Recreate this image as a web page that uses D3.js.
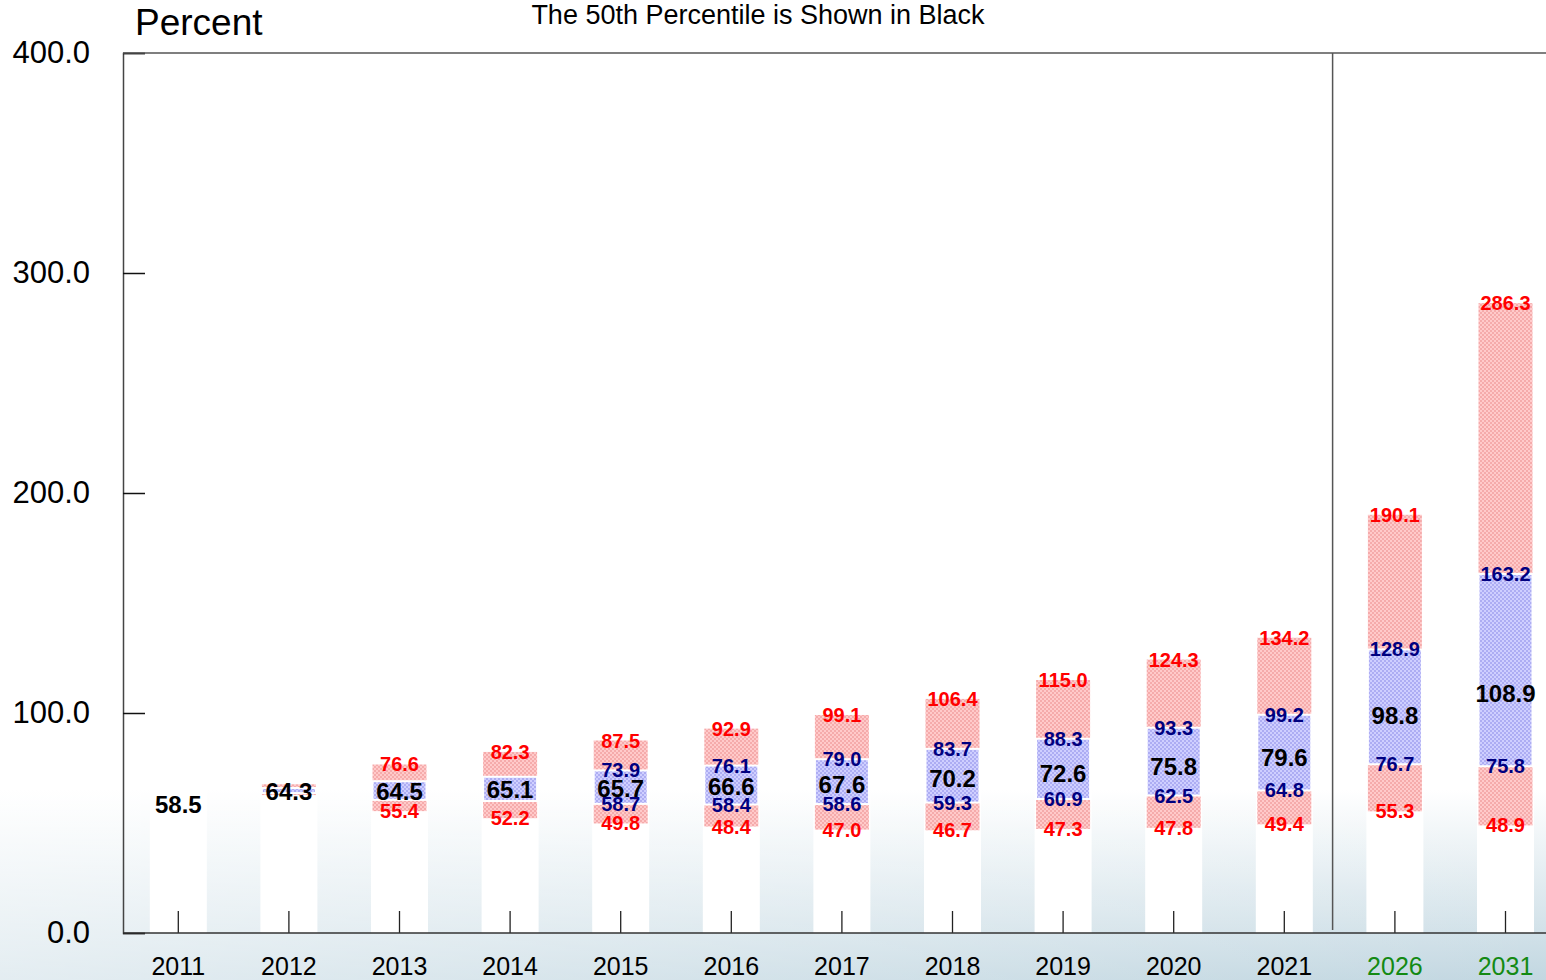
<!DOCTYPE html>
<html>
<head>
<meta charset="utf-8">
<script src="https://cdn.jsdelivr.net/npm/d3@7"></script>
<style>
  html, body { margin: 0; padding: 0; background: #fff; }
  svg { display: block; font-family: "Liberation Sans", Arial, sans-serif; }
</style>
</head>
<body>
<svg id="chart" width="1546" height="980"></svg>
<script>
const years = ['2011', '2012', '2013', '2014', '2015', '2016', '2017', '2018', '2019', '2020', '2021', '2026', '2031']
const projected = ['2026', '2031']

// percentile bands, null where there is no spread
const p10 = [null, 62.7, 55.4, 52.2, 49.8, 48.4, 47.0, 46.7, 47.3, 47.8, 49.4, 55.3, 48.9]
const p25 = [null, 63.6, 60.5, 60.0, 58.7, 58.4, 58.6, 59.3, 60.9, 62.5, 64.8, 76.7, 75.8]
const p50 = [58.5, 64.3, 64.5, 65.1, 65.7, 66.6, 67.6, 70.2, 72.6, 75.8, 79.6, 98.8, 108.9]
const p75 = [null, 65.9, 69.0, 71.0, 73.9, 76.1, 79.0, 83.7, 88.3, 93.3, 99.2, 128.9, 163.2]
const p90 = [null, 67.6, 76.6, 82.3, 87.5, 92.9, 99.1, 106.4, 115.0, 124.3, 134.2, 190.1, 286.3]

// which years carry printed values for the outer / inner bands
const outerLabelYears = ['2013', '2014', '2015', '2016', '2017', '2018', '2019', '2020', '2021', '2026', '2031']
const innerLabelYears = ['2015', '2016', '2017', '2018', '2019', '2020', '2021', '2026', '2031']

const yTicks = [0, 100, 200, 300, 400]

const width = 1546
const height = 980
const margin = { top: 53, left: 123, bottom: 47 }
const step = 110.6

const fmt = d3.format('.1f')

const rows = years.map((y, i) => ({
  year: y, p10: p10[i], p25: p25[i], p50: p50[i], p75: p75[i], p90: p90[i]
}))

const svg = d3.select('#chart')
const defs = svg.append('defs')

const bg = defs.append('linearGradient')
  .attr('id', 'bgv')
  .attr('gradientUnits', 'userSpaceOnUse')
  .attr('x1', 0).attr('y1', 790).attr('x2', 0).attr('y2', 980)
bg.append('stop').attr('offset', 0).attr('stop-color', '#ffffff')
bg.append('stop').attr('offset', 1).attr('stop-color', '#c2d7e1')

const fade = defs.append('linearGradient')
  .attr('id', 'bgh')
  .attr('gradientUnits', 'userSpaceOnUse')
  .attr('x1', 0).attr('y1', 0).attr('x2', width).attr('y2', 0)
fade.append('stop').attr('offset', 0).attr('stop-color', '#ffffff').attr('stop-opacity', 0.55)
fade.append('stop').attr('offset', 1).attr('stop-color', '#ffffff').attr('stop-opacity', 0)

function checker(id, light, dark) {
  const p = defs.append('pattern')
    .attr('id', id)
    .attr('patternUnits', 'userSpaceOnUse')
    .attr('width', 4).attr('height', 4)
  p.append('rect').attr('width', 4).attr('height', 4).attr('fill', light)
  p.append('rect').attr('width', 2).attr('height', 2).attr('fill', dark)
  p.append('rect').attr('x', 2).attr('y', 2).attr('width', 2).attr('height', 2).attr('fill', dark)
}
checker('hatchRed', '#ffcaca', '#f5abab')
checker('hatchBlue', '#cfcfff', '#adadf3')

svg.append('rect').attr('width', width).attr('height', height).attr('fill', 'url(#bgv)')
svg.append('rect').attr('width', width).attr('height', height).attr('fill', 'url(#bgh)')

const x = d3.scaleBand()
  .domain(years)
  .range([margin.left, margin.left + step * years.length])
  .padding(0)

const y = d3.scaleLinear()
  .domain([0, 400])
  .range([height - margin.bottom, margin.top])

const cx = (d) => x(d) + x.bandwidth() / 2
const barw = 54
const colw = 57

// white column behind every year
svg.append('g')
  .selectAll('rect')
  .data(years)
  .join('rect')
   .attr('x', (d) => cx(d) - colw / 2)
   .attr('y', y(400))
   .attr('width', colw)
   .attr('height', y(0) - y(400))
   .attr('fill', '#fff')

const bands = rows.filter((d) => d.p10 != null)

svg.append('g')
  .selectAll('rect')
  .data(bands)
  .join('rect')
   .attr('x', (d) => cx(d.year) - barw / 2)
   .attr('y', (d) => y(d.p90))
   .attr('width', barw)
   .attr('height', (d) => y(d.p10) - y(d.p90))
   .attr('fill', 'url(#hatchRed)')

svg.append('g')
  .selectAll('rect')
  .data(bands)
  .join('rect')
   .attr('x', (d) => cx(d.year) - barw / 2)
   .attr('y', (d) => y(d.p75))
   .attr('width', barw)
   .attr('height', (d) => y(d.p25) - y(d.p75))
   .attr('fill', 'url(#hatchBlue)')
   .attr('stroke', '#fff')
   .attr('stroke-width', 2)

// axes
const yAxis = d3.axisLeft(y)
  .tickValues(yTicks)
  .tickFormat(fmt)
  .tickSize(-22)
  .tickPadding(33)

const gy = svg.append('g')
  .attr('transform', 'translate(' + margin.left + ',0)')
  .call(yAxis)
gy.select('.domain').attr('stroke', '#444').attr('stroke-width', 1.5)
gy.selectAll('.tick line').attr('stroke', '#111').attr('stroke-width', 1.5)
gy.selectAll('.tick text')
  .attr('font-size', 31)
  .attr('fill', '#000')
  .attr('font-family', '"Liberation Sans", Arial, sans-serif')

const xAxis = d3.axisBottom(x)
  .tickSize(-22)
  .tickPadding(24)

const gx = svg.append('g')
  .attr('transform', 'translate(0,' + y(0) + ')')
  .call(xAxis)
gx.select('.domain').attr('stroke', 'none')
gx.selectAll('.tick line').attr('stroke', '#222').attr('stroke-width', 1.3)
gx.selectAll('.tick text')
  .attr('font-size', 25)
  .attr('fill', (d) => projected.includes(d) ? '#138a13' : '#000')
  .attr('font-family', '"Liberation Sans", Arial, sans-serif')

svg.append('line')
  .attr('x1', margin.left).attr('x2', width)
  .attr('y1', y(0)).attr('y2', y(0))
  .attr('stroke', '#333').attr('stroke-width', 1.5)

svg.append('line')
  .attr('x1', margin.left).attr('x2', width)
  .attr('y1', y(400)).attr('y2', y(400))
  .attr('stroke', '#555').attr('stroke-width', 1.5)

// actual / projected divider
const divx = x('2021') + x.bandwidth() - 7
svg.append('line')
  .attr('x1', divx).attr('x2', divx)
  .attr('y1', y(400)).attr('y2', y(0) - 3)
  .attr('stroke', '#555').attr('stroke-width', 1.5)

// value labels
const labels = svg.append('g')
  .attr('text-anchor', 'middle')
  .attr('font-weight', 'bold')
  .attr('dominant-baseline', 'central')

function putLabels(data, key, color, size) {
  labels.append('g')
    .selectAll('text')
    .data(data)
    .join('text')
     .attr('x', (d) => cx(d.year))
     .attr('y', (d) => y(d[key]))
     .attr('fill', color)
     .attr('font-size', size)
     .text((d) => fmt(d[key]))
}

const outer = rows.filter((d) => outerLabelYears.includes(d.year))
const inner = rows.filter((d) => innerLabelYears.includes(d.year))

putLabels(outer, 'p90', '#ff0000', 20)
putLabels(outer, 'p10', '#ff0000', 20)
putLabels(inner, 'p75', '#000080', 20)
putLabels(inner, 'p25', '#000080', 20)
putLabels(rows, 'p50', '#000', 24)

svg.append('text')
  .attr('x', 135)
  .attr('y', 35)
  .attr('font-size', 37)
  .text('Percent')

svg.append('text')
  .attr('x', 758)
  .attr('y', 24)
  .attr('text-anchor', 'middle')
  .attr('font-size', 27)
  .text('The 50th Percentile is Shown in Black')
</script>
</body>
</html>
